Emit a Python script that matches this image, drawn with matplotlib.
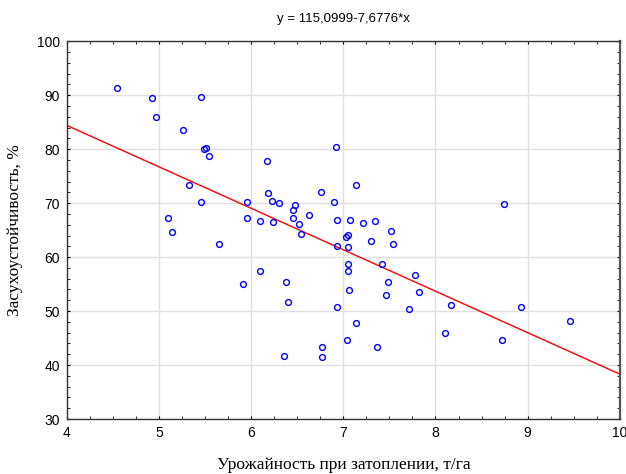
import numpy as np
import matplotlib
matplotlib.use("Agg")
import matplotlib.pyplot as plt
from matplotlib.ticker import MultipleLocator

x_yield = [4.54, 4.92, 4.97, 5.26, 5.46, 5.49, 5.51, 5.54, 5.32, 5.46, 5.10, 5.14,
           5.65, 5.95, 5.95, 5.91, 6.09, 6.10, 6.17, 6.18, 6.22, 6.24, 6.30, 6.38,
           6.40, 6.36, 6.45, 6.47, 6.45, 6.52, 6.54, 6.63, 6.76, 6.77, 6.77, 6.90,
           6.92, 6.93, 6.93, 6.93, 7.03, 7.05, 7.05, 7.05, 7.05, 7.06, 7.04, 7.07,
           7.14, 7.14, 7.21, 7.30, 7.34, 7.37, 7.42, 7.46, 7.48, 7.52, 7.54, 7.71,
           7.78, 7.82, 8.10, 8.17, 8.72, 8.74, 8.93, 9.46]
y_drought = [91.4, 89.4, 85.9, 83.6, 89.7, 80.0, 80.2, 78.7, 73.3, 70.3, 67.3, 64.6,
             62.5, 70.3, 67.3, 55.0, 66.6, 57.5, 77.8, 71.9, 70.4, 66.5, 70.1, 55.4,
             51.7, 41.6, 68.8, 69.6, 67.3, 66.1, 64.3, 67.8, 72.0, 43.4, 41.4, 70.3,
             80.4, 66.9, 62.0, 50.7, 63.8, 64.1, 61.8, 58.8, 57.5, 53.9, 44.6, 66.9,
             73.3, 47.7, 66.3, 63.0, 66.6, 43.4, 58.8, 53.0, 55.4, 64.8, 62.5, 50.4,
             56.7, 53.5, 45.9, 51.2, 44.6, 69.8, 50.7, 48.1]
intercept = 115.0999
slope = -7.6776
x_ticks = [4, 5, 6, 7, 8, 9, 10]
y_ticks = [30, 40, 50, 60, 70, 80, 90, 100]

fig = plt.figure(figsize=(6.26, 4.74), dpi=100)
ax = fig.add_axes([0.107, 0.116, 0.883, 0.797])

ax.grid(True, color="#e0e0e0", linewidth=1.0, zorder=0)
xl = np.array([4, 10])
ax.plot(xl, intercept + slope * xl, color="red", linewidth=1.0, zorder=2)
ax.plot(x_yield, y_drought, linestyle="none", marker="o", markersize=4.2,
        markerfacecolor="none", markeredgecolor="#0000ff", markeredgewidth=1.0, zorder=3)

ax.set_xlim(4, 10)
ax.set_ylim(30, 100)
ax.set_xticks(x_ticks)
ax.set_yticks(y_ticks)
ax.xaxis.set_minor_locator(MultipleLocator(0.25))
ax.yaxis.set_minor_locator(MultipleLocator(2))
ax.tick_params(which="both", direction="in", top=True, right=True,
               labelsize=10, labelfontfamily="Liberation Sans", pad=5)
ax.tick_params(which="major", length=2.5)
ax.tick_params(which="minor", length=2)
for name, s in ax.spines.items():
    s.set_linewidth(1.0)
    s.set_color("#333333")
ax.spines["right"].set_linewidth(1.6)
ax.spines["right"].set_color("#555555")

ax.set_title("y = 115,0999-7,6776*x", fontsize=9.5, family="Liberation Sans", pad=14)
ax.set_xlabel("Урожайность при затоплении, т/га", fontsize=12.5,
              family="Liberation Serif", labelpad=12)
ax.set_ylabel("Засухоустойчивость, %", fontsize=12.5,
              family="Liberation Serif", labelpad=10)

fig.savefig("out.png", dpi=100)
